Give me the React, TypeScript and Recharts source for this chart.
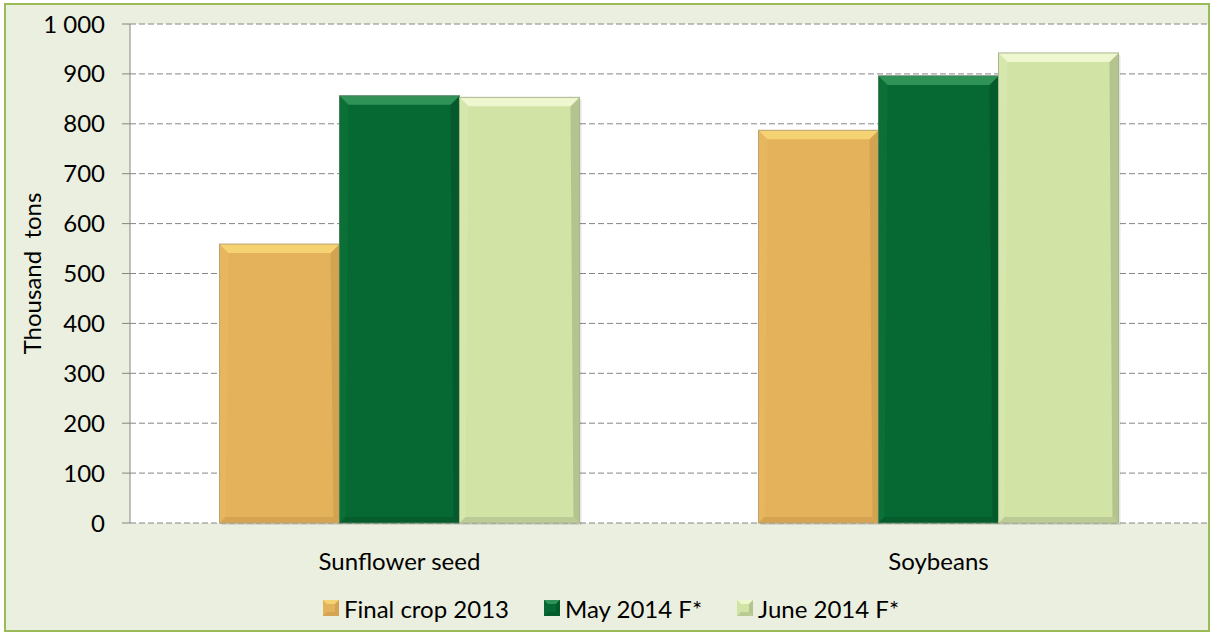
import React from 'react';
import { BarChart, Bar, XAxis, YAxis, CartesianGrid, Legend } from 'recharts';

const categories = ['Sunflower seed', 'Soybeans'];
const final2013 = [559, 787];
const may2014 = [856, 896];
const june2014 = [853, 942];
const yTicks = [0, 100, 200, 300, 400, 500, 600, 700, 800, 900, 1000];
const seriesNames = ['Final crop 2013', 'May 2014 F*', 'June 2014 F*'];

const data = categories.map((c, i) => ({
  name: c,
  final: final2013[i],
  may: may2014[i],
  june: june2014[i],
}));

const FONT = 'Lato, "Open Sans", sans-serif';

type Pal = { base: string; top: string; left: string; right: string; bottom: string; stroke: string };
const palettes: Pal[] = [
  { base: '#e4b25a', top: '#f6d372', left: '#e7b75f', right: '#d2a350', bottom: '#d4a452', stroke: '#b9a478' },
  { base: '#066832', top: '#2f9257', left: '#0a7036', right: '#055a2b', bottom: '#055c2c', stroke: '#4f7d5c' },
  { base: '#d1e3a5', top: '#eef7cf', left: '#d6e7ad', right: '#b4c48e', bottom: '#bccb95', stroke: '#a9b68e' },
];

const makeShape = (p: Pal) => (props: any) => {
  const { x, y, width: w, height: h } = props;
  if (!w || !h) return null;
  const b = Math.min(9, w / 4, h / 4);
  const bb = Math.min(6, w / 4, h / 4);
  return (
    <g>
      <rect x={x + 2} y={y + 2} width={w} height={h} fill="rgba(0,0,0,0.1)" />
      <rect x={x} y={y} width={w} height={h} fill={p.base} />
      <polygon points={`${x},${y} ${x + b},${y + b} ${x + bb},${y + h - bb} ${x},${y + h}`} fill={p.left} />
      <polygon points={`${x + w},${y} ${x + w},${y + h} ${x + w - bb},${y + h - bb} ${x + w - b},${y + b}`} fill={p.right} />
      <polygon points={`${x},${y + h} ${x + w},${y + h} ${x + w - bb},${y + h - bb} ${x + bb},${y + h - bb}`} fill={p.bottom} />
      <polygon points={`${x},${y} ${x + w},${y} ${x + w - b},${y + b} ${x + b},${y + b}`} fill={p.top} />
      <rect x={x} y={y} width={w} height={h} fill="none" stroke={p.stroke} strokeWidth={1} />
    </g>
  );
};

const fmt = (v: number) => String(v).replace(/\B(?=(\d{3})+(?!\d))/g, ' ');

const LegendContent = () => (
  <div style={{ display: 'flex', justifyContent: 'flex-start', alignItems: 'center', height: 50, fontFamily: FONT, fontSize: 24, color: '#000', paddingLeft: 323 }}>
    {seriesNames.map((n, i) => (
      <div key={n} style={{ display: 'flex', alignItems: 'center', marginRight: i < 2 ? 35 : 0 }}>
        <svg width={16} height={16} style={{ marginRight: 5 }}>
          <rect x={0} y={0} width={16} height={16} fill={palettes[i].base} />
          <polygon points="0,0 16,0 12,4 4,4" fill={palettes[i].top} />
          <polygon points="16,0 16,16 12,12 12,4" fill={palettes[i].right} />
          <polygon points="0,16 16,16 12,12 4,12" fill={palettes[i].bottom} />
        </svg>
        <span>{n}</span>
      </div>
    ))}
  </div>
);

export default function App() {
  return (
    <div style={{ position: 'absolute', left: 0, top: 0, width: 1210, height: 633 }}>
      <div
        style={{
          position: 'absolute',
          left: 4,
          top: 3,
          width: 1202,
          height: 625,
          border: '2px solid #9bbb59',
          background: '#ebefdf',
        }}
      />
      <div style={{ position: 'absolute', left: 0, top: 0 }}>
        <BarChart
          width={1210}
          height={633}
          data={data}
          margin={{ top: 24, right: 2, left: 0, bottom: 0 }}
          barCategoryGap="16.6%"
          barGap={0}
        >
          <CartesianGrid vertical={false} stroke="#868686" strokeDasharray="6 3" fill="#ffffff" />
          <XAxis
            xAxisId="bnd"
            type="number"
            domain={[0, 2]}
            ticks={[0, 1, 2]}
            allowDataOverflow
            height={0}
            tick={false}
            tickSize={8}
            stroke="#868686"
            axisLine={{ stroke: '#868686' }}
            tickLine={{ stroke: '#868686' }}
          />
          <XAxis
            xAxisId="cat"
            dataKey="name"
            height={60}
            axisLine={false}
            tickLine={false}
            tickSize={0}
            tickMargin={30}
            tick={{ fill: '#000', fontSize: 24, fontFamily: FONT }}
          />
          <YAxis
            width={130}
            domain={[0, 1000]}
            ticks={yTicks}
            tickFormatter={fmt}
            tickSize={8}
            tickMargin={17}
            stroke="#868686"
            tick={{ fill: '#000', fontSize: 24, fontFamily: FONT }}
            label={{
              value: 'Thousand\u00a0\u00a0tons',
              angle: -90,
              position: 'insideLeft',
              dx: 27,
              style: { fill: '#000', fontSize: 24, fontFamily: FONT, textAnchor: 'middle' },
            }}
          />
          <Legend verticalAlign="bottom" height={50} content={<LegendContent />} />
          <Bar xAxisId="cat" dataKey="final" name={seriesNames[0]} fill={palettes[0].base} shape={makeShape(palettes[0])} isAnimationActive={false} />
          <Bar xAxisId="cat" dataKey="may" name={seriesNames[1]} fill={palettes[1].base} shape={makeShape(palettes[1])} isAnimationActive={false} />
          <Bar xAxisId="cat" dataKey="june" name={seriesNames[2]} fill={palettes[2].base} shape={makeShape(palettes[2])} isAnimationActive={false} />
        </BarChart>
      </div>
    </div>
  );
}
